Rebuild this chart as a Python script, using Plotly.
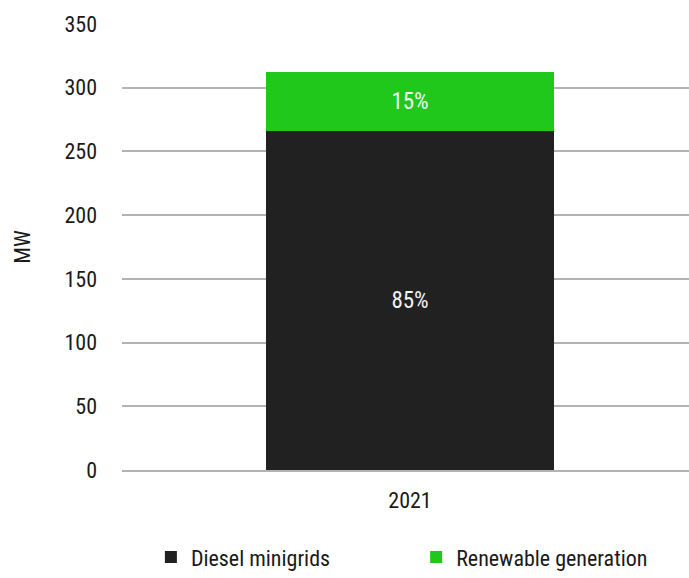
import plotly.graph_objects as go

categories = ["2021"]
diesel = [266]
renewable = [46]
diesel_labels = ["85%"]
renewable_labels = ["15%"]
y_ticks = [0, 50, 100, 150, 200, 250, 300, 350]

FONT = "Liberation Sans Narrow, Arial Narrow, Roboto Condensed, Liberation Sans, sans-serif"
FS = 22

fig = go.Figure()
fig.add_trace(go.Bar(
    x=[0], y=diesel, name="Diesel minigrids",
    marker=dict(color="#212121", line=dict(width=0)),
    text=diesel_labels, textposition="inside", insidetextanchor="middle",
    textfont=dict(color="#f2f2f2", size=23, family=FONT),
    width=0.5, legend="legend",
))
fig.add_trace(go.Bar(
    x=[0], y=renewable, name="Renewable generation",
    marker=dict(color="#20c81c", line=dict(width=0)),
    text=renewable_labels, textposition="inside", insidetextanchor="middle",
    textfont=dict(color="#f2f2f2", size=23, family=FONT),
    width=0.5, legend="legend2",
))

legend_common = dict(orientation="h", xref="container", yref="container",
                     y=0.036, yanchor="middle", xanchor="left",
                     font=dict(size=FS, family=FONT), bgcolor="rgba(0,0,0,0)")

fig.update_layout(
    barmode="stack",
    width=689, height=578,
    margin=dict(l=122, r=0, t=24, b=108, autoexpand=False),
    plot_bgcolor="white", paper_bgcolor="white",
    font=dict(family=FONT, size=FS, color="#1a1a1a"),
    showlegend=True,
    legend=dict(x=0.219, **legend_common),
    legend2=dict(x=0.604, **legend_common),
    uniformtext=dict(mode="show", minsize=10),
)
fig.update_yaxes(range=[0, 350], tickvals=y_ticks, showgrid=True, gridcolor="#b3b3b3",
                 gridwidth=2, zeroline=False, showline=False, ticks="",
                 ticklabelstandoff=24,
                 title=dict(text="MW", font=dict(size=FS, family=FONT), standoff=27),
                 tickfont=dict(size=FS, family=FONT))
fig.update_xaxes(range=[-0.5, -0.5 + 567 / 576], tickvals=[0], ticktext=categories,
                 showline=True, linecolor="#b3b3b3", linewidth=2, ticks="",
                 tickfont=dict(size=FS, family=FONT), ticklabelstandoff=10)

fig.write_html("out.html")
